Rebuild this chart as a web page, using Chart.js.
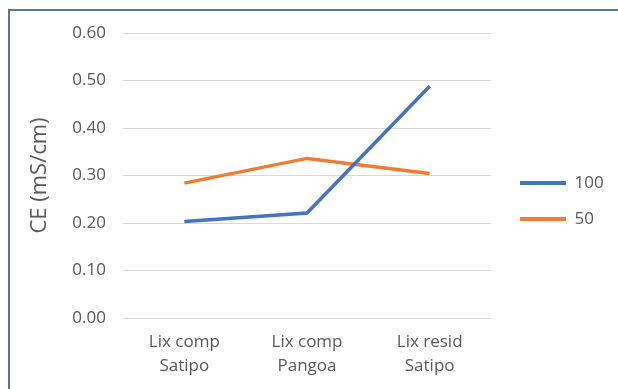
<!DOCTYPE html>
<html>
<head>
<meta charset="utf-8">
<script src="https://cdn.jsdelivr.net/npm/chart.js@4/dist/chart.umd.min.js"></script>
<style>
  html, body { margin: 0; padding: 0; background: #fff; overflow: hidden; width: 618px; height: 389px; }
  #frame { position: absolute; left: 8px; top: 9px; width: 700px; height: 500px;
           border-top: 2px solid #5b7692; border-left: 2px solid #5b7692; box-sizing: border-box; }
  #wrap { position: absolute; left: 0; top: 0; width: 618px; height: 389px; }
</style>
</head>
<body>
<div id="frame"></div>
<div id="wrap"><canvas id="c"></canvas></div>
<script>
const categories = [["Lix comp", "Satipo"], ["Lix comp", "Pangoa"], ["Lix resid", "Satipo"]];
const seriesNames = ["100", "50"];
const values100 = [0.203, 0.221, 0.488];
const values50 = [0.284, 0.336, 0.304];
const yTicks = { min: 0, max: 0.6, step: 0.1 };
const yTitle = "CE (mS/cm)";

const FONT = "'Open Sans', sans-serif";
const GREY = "#595959";

// layout helper: fixes the legend column width and its gap from the plot
const legendFix = {
  id: 'legendFix',
  beforeLayout(chart) {
    const lg = chart.legend;
    if (lg && !lg._patched) {
      const orig = lg.fit;
      lg.fit = function () { orig.call(this); this.width = 127; };
      lg._patched = true;
    }
  },
  afterLayout(chart) {
    if (chart.legend) chart.legend.left = chart.chartArea.right + 10;
  }
};

new Chart(document.getElementById('c'), {
  type: 'line',
  data: {
    labels: categories,
    datasets: [
      { label: seriesNames[0], data: values100, borderColor: '#4472C4', backgroundColor: '#4472C4',
        borderWidth: 3.5, pointRadius: 0, tension: 0, fill: false },
      { label: seriesNames[1], data: values50, borderColor: '#ED7D31', backgroundColor: '#ED7D31',
        borderWidth: 3.5, pointRadius: 0, tension: 0, fill: false }
    ]
  },
  plugins: [legendFix],
  options: {
    responsive: true,
    maintainAspectRatio: false,
    animation: false,
    layout: { padding: { left: 10, top: 13, right: 0, bottom: 0 } },
    plugins: {
      tooltip: { enabled: false },
      legend: {
        position: 'right',
        labels: {
          boxWidth: 46, boxHeight: 4, padding: 19,
          color: GREY, font: { family: FONT, size: 17 },
          generateLabels: function(chart) {
            const items = Chart.defaults.plugins.legend.labels.generateLabels(chart);
            items.forEach(it => { it.lineWidth = 0; it.strokeStyle = 'rgba(0,0,0,0)'; });
            return items;
          }
        }
      }
    },
    scales: {
      x: {
        offset: true,
        grid: { display: false, drawTicks: false },
        border: { display: false },
        ticks: { color: GREY, font: { family: FONT, size: 17, lineHeight: 1.41 }, padding: 12, maxRotation: 0 },
        afterFit: s => { s.height = 71; }
      },
      y: {
        min: yTicks.min, max: yTicks.max,
        grid: { color: '#d9d9d9', lineWidth: 1, drawTicks: false },
        border: { display: false },
        ticks: { stepSize: yTicks.step, color: GREY, padding: 17,
                 font: { family: FONT, size: 17 },
                 callback: v => v.toFixed(2) },
        title: { display: true, text: yTitle, color: GREY, font: { family: FONT, size: 22 },
                 padding: { top: 17, bottom: 0 } },
        afterFit: s => { s.width = 113; }
      },
      xTop: {
        type: 'linear', position: 'top', axis: 'x', display: true,
        grid: { display: false, drawTicks: false }, border: { display: false },
        ticks: { display: false },
        afterFit: s => { s.height = 20; }
      }
    }
  }
});
</script>
</body>
</html>
